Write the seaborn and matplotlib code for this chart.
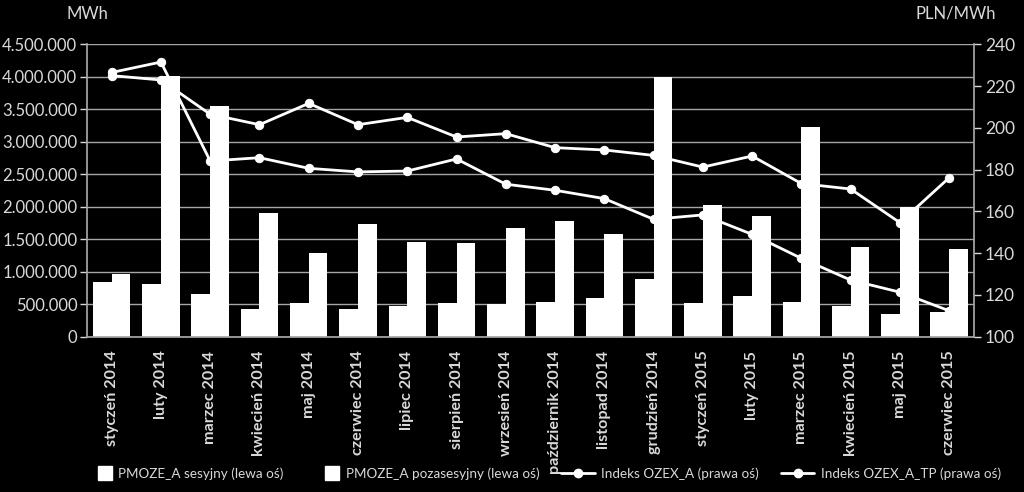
import matplotlib
matplotlib.use("Agg")
import matplotlib.pyplot as plt
import seaborn as sns
import pandas as pd
import numpy as np
from matplotlib.ticker import FuncFormatter, MultipleLocator
from matplotlib.lines import Line2D
from matplotlib.patches import Patch, Rectangle
from matplotlib.legend_handler import HandlerPatch

months = ["styczeń 2014", "luty 2014", "marzec 2014", "kwiecień 2014", "maj 2014",
          "czerwiec 2014", "lipiec 2014", "sierpień 2014", "wrzesień 2014",
          "październik 2014", "listopad 2014", "grudzień 2014", "styczeń 2015",
          "luty 2015", "marzec 2015", "kwiecień 2015", "maj 2015", "czerwiec 2015"]

sesyjny = [840000, 815000, 657000, 431000, 519000, 431000, 468000, 519000, 503000,
           529000, 600000, 888000, 519000, 626000, 529000, 468000, 345000, 375000]
pozasesyjny = [960000, 4010000, 3550000, 1899000, 1283000, 1730000, 1453000, 1442000, 1668000,
               1776000, 1580000, 4000000, 2022000, 1852000, 3222000, 1385000, 1991000, 1350000]
ozex_a = [226.5, 231.5, 184.1, 185.7, 180.6, 178.9, 179.3, 185.1, 173.0,
          170.1, 166.1, 156.2, 158.3, 149.0, 137.5, 127.1, 121.3, 112.4]
ozex_a_tp = [225.0, 222.9, 206.5, 201.5, 211.7, 201.5, 205.0, 195.6, 197.2,
             190.5, 189.4, 186.8, 181.2, 186.5, 173.3, 170.7, 154.6, 176.1]

labels_bars = ["PMOZE_A sesyjny (lewa oś)", "PMOZE_A pozasesyjny (lewa oś)"]
labels_lines = ["Indeks OZEX_A (prawa oś)", "Indeks OZEX_A_TP (prawa oś)"]

sns.set_theme(style="dark")
plt.rcParams["font.family"] = ["Lato", "DejaVu Sans"]
TXT = "#d9d9d9"
GRID = "#a6a6a6"

bars = pd.DataFrame({
    "miesiac": months * 2,
    "wartosc": sesyjny + pozasesyjny,
    "seria": [labels_bars[0]] * len(months) + [labels_bars[1]] * len(months),
})
lines = pd.DataFrame({
    "idx": list(range(len(months))) * 2,
    "cena": ozex_a + ozex_a_tp,
    "seria": [labels_lines[0]] * len(months) + [labels_lines[1]] * len(months),
})

fig = plt.figure(figsize=(10.24, 4.92), dpi=100, facecolor="black")
ax = fig.add_axes([0.085, 0.3157, 0.866, 0.5943])
ax.set_facecolor("black")

sns.barplot(data=bars, x="miesiac", y="wartosc", hue="seria", order=months,
            palette=["white", "white"], width=0.76, linewidth=0, ax=ax, legend=False)

ax.set_ylim(0, 4500000)
ax.yaxis.set_major_locator(MultipleLocator(500000))
ax.yaxis.set_major_formatter(FuncFormatter(lambda v, p: format(int(v), ",").replace(",", ".")))
ax.grid(axis="y", color=GRID, linewidth=1)
ax.grid(axis="x", visible=False)
ax.set_axisbelow(True)
ax.set_xlim(-0.5, len(months) - 0.5)
ax.set_xlabel("")
ax.set_ylabel("")
ax.tick_params(axis="y", colors=TXT, labelsize=12, length=5, width=1, direction="out", left=True, pad=2)
ax.tick_params(axis="x", colors=TXT, labelsize=11.6, length=0, rotation=90, pad=10)
for lbl in ax.get_xticklabels():
    lbl.set_fontweight("bold")
for s in ["top", "right"]:
    ax.spines[s].set_visible(False)
ax.spines["left"].set_color(GRID)
ax.spines["bottom"].set_color(GRID)

ax2 = ax.twinx()
sns.lineplot(data=lines, x="idx", y="cena", hue="seria", palette=["white", "white"],
             marker="o", markersize=6, markeredgecolor="white", linewidth=2,
             ax=ax2, legend=False)
ax2.set_ylim(100, 240)
ax2.yaxis.set_major_locator(MultipleLocator(20))
ax2.set_xlim(-0.5, len(months) - 0.5)
ax2.set_ylabel("")
ax2.set_xlabel("")
ax2.grid(False)
ax2.tick_params(axis="y", colors=TXT, labelsize=12.5, length=5, width=1, direction="out", right=True, pad=3)
for s in ["top", "left", "bottom"]:
    ax2.spines[s].set_visible(False)
ax2.spines["right"].set_color(GRID)

fig.text(0.085, 0.972, "MWh", color=TXT, fontsize=12, ha="center", va="center")
fig.text(0.973, 0.972, "PLN/MWh", color=TXT, fontsize=12, ha="right", va="center")


def square(legend, orig_handle, xdescent, ydescent, width, height, fontsize):
    s = height * 1.45
    return Rectangle((width - s - xdescent, -ydescent + (height - s) / 2), s, s)


handles = [Patch(facecolor="white", edgecolor="white"), Patch(facecolor="white", edgecolor="white"),
           Line2D([], [], color="white", lw=2, marker="o", markersize=6),
           Line2D([], [], color="white", lw=2, marker="o", markersize=6)]
leg = fig.legend(handles, labels_bars + labels_lines, loc="center", bbox_to_anchor=(0.527, 0.038),
                 ncol=4, frameon=False, prop={"size": 9.7},
                 labelcolor=TXT, columnspacing=1.6, handlelength=2.5,
                 handletextpad=0.5, handler_map={Patch: HandlerPatch(patch_func=square)})

fig.savefig("out.png", dpi=100, facecolor="black")
